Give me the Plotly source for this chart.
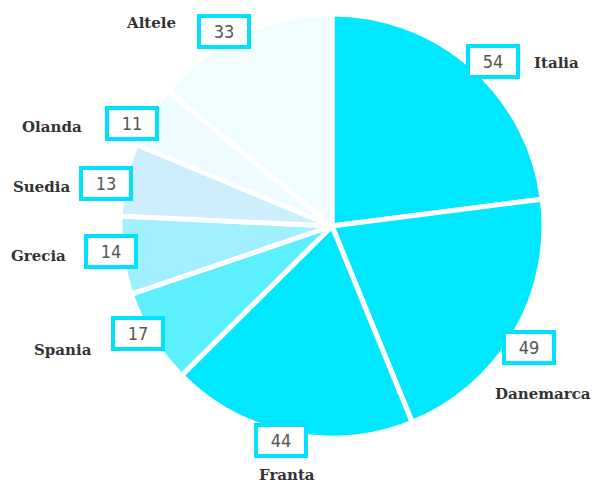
import math
import plotly.graph_objects as go

countries = ["Italia", "Danemarca", "Franta", "Spania", "Grecia", "Suedia", "Olanda", "Altele"]
values = [54, 49, 44, 17, 14, 13, 11, 33]
colors = ["#00e8ff", "#00e8ff", "#00e8ff", "#5cf0ff", "#a0f0ff", "#cdeefc", "#eefbff", "#f0fdff"]

# page is 603x485, body has 8px margin -> figure sits at (8, 8) and runs to the window edge
PAD = 8
W, H = 603 - PAD, 485 - PAD
cx, cy, R = 332 - PAD, 226 - PAD, 212
box_r = 225
# small hand nudges of the value boxes off the mid-angle position (px)
box_nudge = [(12, 4), (3, 8), (-6, -6), (-3, -11), (2, -6), (-6, 7), (-7, 13), (-12, 9)]
# where the country name sits relative to its value box (px)
name_offsets = [(64, 2), (14, 47), (6, 35), (-75, 16), (-73, 5), (-65, 3), (-80, 4), (-73, -9)]

fig = go.Figure(go.Pie(
    labels=countries, values=values, sort=False, direction="clockwise", rotation=0,
    marker=dict(colors=colors, line=dict(color="white", width=5)),
    textinfo="none", hoverinfo="label+value",
    domain=dict(x=[(cx - R) / W, (cx + R) / W], y=[1 - (cy + R) / H, 1 - (cy - R) / H]),
))

total = sum(values)
start = 0
annotations = []
for name, v, (nx, ny), (ox, oy) in zip(countries, values, box_nudge, name_offsets):
    mid = (start + v / 2) / total * 2 * math.pi
    start += v
    bx = cx + box_r * math.sin(mid) + nx
    by = cy - box_r * math.cos(mid) + ny
    annotations.append(dict(
        x=bx / W, y=1 - by / H, xref="paper", yref="paper", xanchor="center", yanchor="middle",
        text=str(v), showarrow=False,
        font=dict(family="Liberation Sans Narrow, DejaVu Sans Condensed", size=18, color="#555"),
        bgcolor="white", bordercolor="#00e0ff", borderwidth=4, borderpad=0, width=46, height=27,
    ))
    annotations.append(dict(
        x=(bx + ox) / W, y=1 - (by + oy) / H, xref="paper", yref="paper",
        xanchor="center", yanchor="middle", text="<b>" + name + "</b>",
        showarrow=False, font=dict(family="DejaVu Serif", size=15, color="#333"),
    ))

fig.update_layout(
    width=W, height=H, margin=dict(l=0, r=0, t=0, b=0),
    paper_bgcolor="white", plot_bgcolor="white", showlegend=False,
    annotations=annotations,
)
fig.write_html("out.html")
